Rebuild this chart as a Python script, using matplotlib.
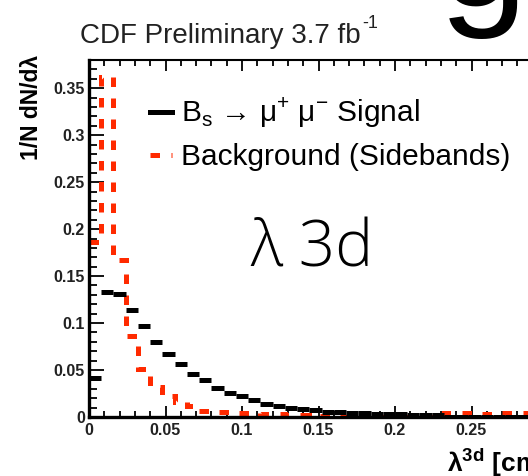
import numpy as np
import matplotlib
matplotlib.use('Agg')
import matplotlib.pyplot as plt
from matplotlib.lines import Line2D
from matplotlib.ticker import MultipleLocator, FormatStrFormatter

plt.rcParams['font.family'] = ['Liberation Sans', 'DejaVu Sans']
plt.rcParams['mathtext.fontset'] = 'custom'
plt.rcParams['mathtext.rm'] = 'Liberation Sans'
plt.rcParams['mathtext.bf'] = 'Liberation Sans:bold'

# DATA SECTION
bin_width = 0.008
signal = [0.041, 0.133, 0.131, 0.114, 0.097, 0.080, 0.067, 0.056, 0.046, 0.039,
          0.031, 0.026, 0.022, 0.018, 0.014, 0.012, 0.010, 0.008, 0.007, 0.005,
          0.005, 0.004, 0.004, 0.003, 0.003, 0.003, 0.002, 0.002, 0.002, 0.0,
          0.0, 0.0, 0.0, 0.0, 0.0, 0.0, 0.0, 0.0, 0.0]
background = [0.186, 0.362, 0.167, 0.086, 0.051, 0.032, 0.022, 0.016, 0.012, 0.006,
              0.005, 0.005, 0.004, 0.004, 0.003, 0.003, 0.002, 0.002, 0.001, 0.001,
              0.0, 0.0, 0.0, 0.0, 0.0, 0.0, 0.0, 0.0, 0.0, 0.004,
              0.004, 0.004, 0.003, 0.004, 0.004, 0.004, 0.003, 0.004, 0.004]
xticks = [0, 0.05, 0.1, 0.15, 0.2, 0.25, 0.3]
yticks = [0, 0.05, 0.1, 0.15, 0.2, 0.25, 0.3, 0.35]

edges = np.arange(len(signal) + 1) * bin_width

# SETTINGS SECTION
W, H = 528, 476
fig = plt.figure(figsize=(W / 100, H / 100), dpi=100)
x0, x1 = 89, 548
y0, y1 = 417, 60
axs = fig.add_axes([x0 / W, 1 - y0 / H, (x1 - x0) / W, (y0 - y1) / H])

red = '#ff2a00'
dash = (0, (1.9, 2.3))

# PLOT SECTION
axs.stairs(background, edges, color=red, linewidth=3.6,
           linestyle=dash, baseline=None, zorder=2)
axs.hlines(signal, edges[:-1], edges[1:], color='black', linewidth=3.6, zorder=3)

# CUSTOMIZE SECTION
axs.set(xlim=(0, 0.3), ylim=(0, 0.38))
axs.set_xticks(xticks)
axs.set_yticks(yticks)
axs.xaxis.set_minor_locator(MultipleLocator(0.01))
axs.yaxis.set_minor_locator(MultipleLocator(0.01))
axs.xaxis.set_major_formatter(FormatStrFormatter('%g'))
axs.yaxis.set_major_formatter(FormatStrFormatter('%g'))
axs.tick_params(which='both', direction='in', top=True, right=True, width=1.3)
axs.tick_params(axis='y', which='major', length=11, pad=3)
axs.tick_params(axis='y', which='minor', length=6)
axs.tick_params(axis='x', which='major', length=8, pad=4)
axs.tick_params(axis='x', which='minor', length=4)
for lab in axs.get_xticklabels() + axs.get_yticklabels():
    lab.set_fontweight('bold')
    lab.set_fontsize(11.5)
    lab.set_color('#222222')
axs.spines['left'].set_linewidth(2.4)
axs.spines['bottom'].set_linewidth(2.4)
axs.spines['top'].set_linewidth(1.5)

axs.set_xlabel(r'λ$^{\mathbf{3d}}$ [cm]', fontsize=19, fontweight='bold',
               loc='right', labelpad=6)
axs.set_ylabel('1/N dN/dλ', fontsize=16.5, fontweight='bold', loc='top')
axs.yaxis.set_label_coords(-0.1, 1.015, transform=axs.transAxes)
axs.yaxis.label.set_horizontalalignment('right')

fig.text(80 / W, 1 - 36 / H, 'CDF Preliminary 3.7 fb',
         fontsize=20, color='#222222', va='center', ha='left')
fig.text(362 / W, 1 - 24 / H, '-1', fontsize=13, color='#222222', va='center', ha='left')

handles = [Line2D([], [], color='black', linewidth=3.6),
           Line2D([], [], color=red, linewidth=3.6, linestyle=dash)]
labels = [r'B$_{\mathregular{s}}$ → μ$^{\mathregular{+}}$ μ$^{\mathregular{-}}$ Signal',
          'Background (Sidebands)']
axs.legend(handles, labels, loc='upper left',
           bbox_to_anchor=((150 - x0) / (x1 - x0), (y0 - 96) / (y0 - y1)),
           frameon=False, fontsize=21.5, handlelength=0.75, handletextpad=0.3,
           labelspacing=0.42, borderaxespad=0, borderpad=0)

fig.text(250 / W, 1 - 250 / H, 'λ 3d', fontsize=46, family=['Open Sans', 'DejaVu Sans'],
         fontweight='light', va='center', ha='left')

# cropped big letter at the top edge
fig.text(483 / W, 1 - 6 / H, 'g', fontsize=115, family='Liberation Sans',
         va='baseline', ha='center')

# SAVING SECTION
plt.savefig('out.png', dpi=100)
